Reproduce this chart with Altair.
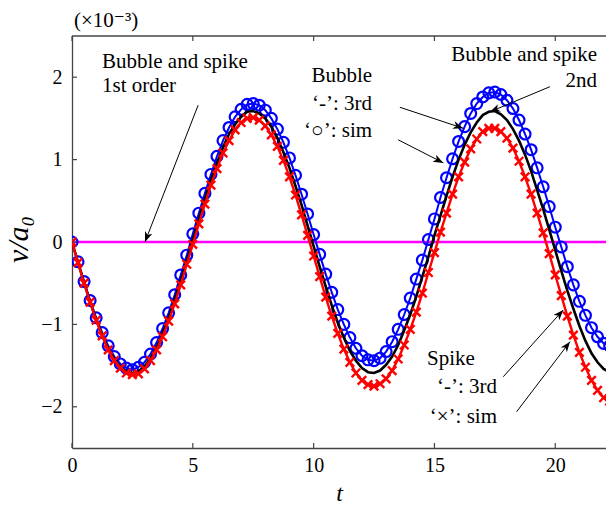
import math
import altair as alt
import pandas as pd

# ---------------- data (values in units of 1e-3) ----------------
T = [0, 0.25, 0.5, 0.75, 1.0, 1.25, 1.5, 1.75, 2.0, 2.25,
     2.5, 2.75, 3.0, 3.25, 3.5, 3.75, 4.0, 4.25, 4.5, 4.75,
     5.0, 5.25, 5.5, 5.75, 6.0, 6.25, 6.5, 6.75, 7.0, 7.25,
     7.5, 7.75, 8.0, 8.25, 8.5, 8.75, 9.0, 9.25, 9.5, 9.75,
     10.0, 10.25, 10.5, 10.75, 11.0, 11.25, 11.5, 11.75, 12.0, 12.25,
     12.5, 12.75, 13.0, 13.25, 13.5, 13.75, 14.0, 14.25, 14.5, 14.75,
     15.0, 15.25, 15.5, 15.75, 16.0, 16.25, 16.5, 16.75, 17.0, 17.25,
     17.5, 17.75, 18.0, 18.25, 18.5, 18.75, 19.0, 19.25, 19.5, 19.75,
     20.0, 20.25, 20.5, 20.75, 21.0, 21.25, 21.5, 21.75, 22.0, 22.25]

# bubble: simulation (circles) / 3rd order (solid blue)
BUBBLE = [0, -0.24, -0.48, -0.71, -0.92, -1.10, -1.26, -1.39, -1.48, -1.53,
          -1.55, -1.52, -1.46, -1.36, -1.22, -1.05, -0.86, -0.64, -0.40, -0.16,
          0.10, 0.35, 0.59, 0.82, 1.04, 1.23, 1.39, 1.52, 1.61, 1.67,
          1.68, 1.66, 1.60, 1.50, 1.37, 1.21, 1.02, 0.81, 0.58, 0.34,
          0.09, -0.15, -0.39, -0.61, -0.82, -1.00, -1.16, -1.29, -1.38, -1.43,
          -1.44, -1.41, -1.33, -1.21, -1.06, -0.88, -0.68, -0.45, -0.22, 0.03,
          0.28, 0.54, 0.78, 1.01, 1.22, 1.40, 1.56, 1.68, 1.76, 1.81,
          1.82, 1.79, 1.72, 1.62, 1.48, 1.31, 1.12, 0.90, 0.67, 0.43,
          0.18, -0.06, -0.30, -0.52, -0.72, -0.89, -1.04, -1.15, -1.23, -1.26]

# spike: simulation (crosses) / 3rd order (solid red)
SPIKE = [0, -0.25, -0.50, -0.73, -0.95, -1.14, -1.31, -1.44, -1.53, -1.59,
         -1.61, -1.60, -1.54, -1.44, -1.31, -1.15, -0.96, -0.75, -0.52, -0.27,
         -0.03, 0.22, 0.46, 0.69, 0.89, 1.08, 1.23, 1.36, 1.45, 1.50,
         1.51, 1.48, 1.41, 1.30, 1.16, 0.99, 0.79, 0.57, 0.33, 0.08,
         -0.17, -0.42, -0.67, -0.90, -1.11, -1.30, -1.46, -1.59, -1.68, -1.73,
         -1.75, -1.72, -1.66, -1.56, -1.42, -1.25, -1.06, -0.85, -0.62, -0.37,
         -0.13, 0.12, 0.35, 0.58, 0.79, 0.97, 1.13, 1.25, 1.34, 1.38,
         1.38, 1.34, 1.26, 1.14, 0.98, 0.79, 0.58, 0.35, 0.11, -0.14,
         -0.40, -0.65, -0.90, -1.13, -1.34, -1.52, -1.68, -1.80, -1.89, -1.93]

# bubble and spike, 2nd order (black)
SECOND = [0, -0.25, -0.49, -0.73, -0.94, -1.13, -1.29, -1.42, -1.52, -1.57,
          -1.59, -1.57, -1.51, -1.41, -1.28, -1.11, -0.92, -0.70, -0.47, -0.23,
          0.03, 0.27, 0.52, 0.75, 0.96, 1.15, 1.31, 1.43, 1.52, 1.58,
          1.59, 1.56, 1.50, 1.40, 1.26, 1.09, 0.90, 0.68, 0.45, 0.20,
          -0.05, -0.30, -0.54, -0.77, -0.98, -1.16, -1.32, -1.44, -1.53, -1.58,
          -1.59, -1.56, -1.49, -1.39, -1.25, -1.07, -0.88, -0.66, -0.42, -0.18,
          0.08, 0.32, 0.56, 0.79, 1.00, 1.18, 1.33, 1.45, 1.54, 1.58,
          1.59, 1.55, 1.48, 1.37, 1.23, 1.06, 0.86, 0.63, 0.40, 0.15,
          -0.10, -0.35, -0.59, -0.81, -1.02, -1.20, -1.35, -1.46, -1.54, -1.58]

# bubble and spike, 1st order (magenta)
FIRST_T = [0, 22.25]
FIRST_V = [0, 0]

X_TICKS = [0, 5, 10, 15, 20]
Y_TICKS = [-2, -1, 0, 1, 2]

# annotations
SCALE_NOTE = "(\u00d710\u207b\u00b3)"
LEFT_TEXT = ["Bubble and spike", "1st order", "Spike"]
LEFT_TEXT_X = [1.24, 1.24, 14.69]
LEFT_TEXT_Y = [2.11, 1.82, -1.49]
RIGHT_TEXT = ["Bubble", "\u2018-\u2019: 3rd", "\u2018\u25cb\u2019: sim",
              "Bubble and spike", "2nd",
              "\u2018-\u2019: 3rd", "\u2018\u00d7\u2019: sim"]
RIGHT_TEXT_X = [12.42, 12.42, 12.42, 21.73, 21.73, 17.59, 17.59]
RIGHT_TEXT_Y = [1.94, 1.60, 1.27, 2.20, 1.88, -1.83, -2.20]
ARROW_X0 = [5.22, 13.57, 13.50, 19.78, 17.85, 18.40]
ARROW_Y0 = [1.66, 1.635, 1.24, 1.885, -1.635, -2.06]
ARROW_X1 = [3.02, 16.19, 15.37, 17.30, 20.33, 20.61]
ARROW_Y1 = [0.00, 1.38, 0.96, 1.58, -0.825, -1.21]

# ---------------- layout ----------------
W, H = 534, 412
X_DOM = [0, 22.1]
Y_DOM = [-2.5, 2.5]
FONT = "Liberation Serif, Times New Roman, DejaVu Serif, serif"
AX = "#444444"

xs = alt.Scale(domain=X_DOM, nice=False, zero=False)
ys = alt.Scale(domain=Y_DOM, nice=False, zero=False)

x_axis = alt.Axis(values=X_TICKS, title="t", grid=False, domain=True, domainColor=AX,
                  domainWidth=1.3, ticks=False, tickSize=0, labelFont=FONT,
                  labelFontSize=20, labelColor="black", labelPadding=7,
                  labelFlush=False, labelOverlap=False, format="d",
                  titleFont=FONT, titleFontSize=24, titleFontStyle="italic",
                  titleFontWeight="normal", titleColor="black",
                  titleBaseline="alphabetic", titleY=52)
y_axis = alt.Axis(values=Y_TICKS, title="v/a\u2080", grid=False, domain=True,
                  domainColor=AX, domainWidth=1.3, ticks=False, tickSize=0,
                  labelFont=FONT, labelFontSize=20, labelColor="black",
                  labelPadding=10, labelFlush=False, labelOverlap=False, format="d",
                  titleFont=FONT, titleFontSize=30, titleFontStyle="italic",
                  titleFontWeight="normal", titleColor="black", titleAngle=270,
                  titleAlign="center", titleBaseline="middle", titleX=-54, titleY=203)


def X(field):
    return alt.X(field, type="quantitative", scale=xs, axis=x_axis)


def Y(field):
    return alt.Y(field, type="quantitative", scale=ys, axis=y_axis)


df = pd.DataFrame({"t": T, "bubble": BUBBLE, "spike": SPIKE, "second": SECOND})
first_df = pd.DataFrame({"t": FIRST_T, "v": FIRST_V})
base = alt.Chart(df)

magenta = alt.Chart(first_df).mark_line(color="#FF00FF", strokeWidth=2.6, clip=True).encode(
    x=X("t"), y=Y("v"))
blue_line = base.mark_line(color="#0000FF", strokeWidth=2, clip=True).encode(x=X("t"), y=Y("bubble"))
blue_pts = base.mark_point(shape="circle", filled=False, color="#0000FF", size=118,
                           strokeWidth=2.2, opacity=1, clip=True).encode(x=X("t"), y=Y("bubble"))
black_line = base.mark_line(color="black", strokeWidth=2.6, clip=True).encode(x=X("t"), y=Y("second"))
red_line = base.mark_line(color="#FF0000", strokeWidth=2.4, clip=True).encode(x=X("t"), y=Y("spike"))
red_pts = base.mark_point(shape="M-1,-1L1,1M1,-1L-1,1", filled=False, color="#FF0000",
                          size=72, strokeWidth=2.4, opacity=1, clip=True).encode(
    x=X("t"), y=Y("spike"))

# frame pieces: inward ticks and top line
xt = pd.DataFrame({"tick": X_TICKS})
yt = pd.DataFrame({"tick": Y_TICKS})
bottom_ticks = alt.Chart(xt).mark_rule(color=AX, strokeWidth=1.2).encode(
    x=X("tick"), y=alt.value(H - 5), y2=alt.value(H))
top_ticks = alt.Chart(xt).mark_rule(color=AX, strokeWidth=1.2).encode(
    x=X("tick"), y=alt.value(0), y2=alt.value(5))
left_ticks = alt.Chart(yt).mark_rule(color=AX, strokeWidth=1.2).encode(
    y=Y("tick"), x=alt.value(0), x2=alt.value(5))
top_line = alt.Chart(pd.DataFrame({"a": [0]})).mark_rule(color=AX, strokeWidth=1.3).encode(
    x=alt.value(0), x2=alt.value(W), y=alt.value(0))
note = alt.Chart(pd.DataFrame({"label": [SCALE_NOTE]})).mark_text(
    align="left", baseline="alphabetic", font=FONT, fontSize=21, color="black").encode(
    x=alt.value(2), y=alt.value(-9), text="label:N")

# annotations
ltxt = pd.DataFrame({"x": LEFT_TEXT_X, "y": LEFT_TEXT_Y, "label": LEFT_TEXT})
rtxt = pd.DataFrame({"x": RIGHT_TEXT_X, "y": RIGHT_TEXT_Y, "label": RIGHT_TEXT})
left_text = alt.Chart(ltxt).mark_text(align="left", baseline="alphabetic", font=FONT,
                                      fontSize=21, color="black").encode(
    x=X("x"), y=Y("y"), text="label:N")
right_text = alt.Chart(rtxt).mark_text(align="right", baseline="alphabetic", font=FONT,
                                       fontSize=21, color="black").encode(
    x=X("x"), y=Y("y"), text="label:N")

px_per_x = W / (X_DOM[1] - X_DOM[0])
px_per_y = H / (Y_DOM[1] - Y_DOM[0])
angles = []
for x0, y0, x1, y1 in zip(ARROW_X0, ARROW_Y0, ARROW_X1, ARROW_Y1):
    dx = (x1 - x0) * px_per_x
    dy = -(y1 - y0) * px_per_y
    angles.append(math.degrees(math.atan2(dx, -dy)) % 360)
arr = pd.DataFrame({"x0": ARROW_X0, "y0": ARROW_Y0, "x1": ARROW_X1, "y1": ARROW_Y1,
                    "angle": angles})
shafts = alt.Chart(arr).mark_rule(color="black", strokeWidth=1).encode(
    x=X("x0"), y=Y("y0"), x2="x1:Q", y2="y1:Q")
heads = alt.Chart(arr).mark_point(shape="M0,0L0.38,1L0,0.72L-0.38,1Z", filled=True,
                                  color="black", size=420, strokeWidth=0, opacity=1).encode(
    x=X("x1"), y=Y("y1"), angle=alt.Angle("angle:Q", scale=None))

chart = alt.layer(
    magenta, blue_line, blue_pts, black_line, red_line, red_pts,
    bottom_ticks, top_ticks, left_ticks, top_line, note,
    shafts, heads, left_text, right_text,
).properties(
    width=W, height=H,
    autosize=alt.AutoSizeParams(type="none"),
    padding={"left": 72, "top": 36, "right": 0, "bottom": 58},
    background="white",
).configure_view(stroke=None)

chart.save("out.html", embed_options={"renderer": "svg", "actions": False})
